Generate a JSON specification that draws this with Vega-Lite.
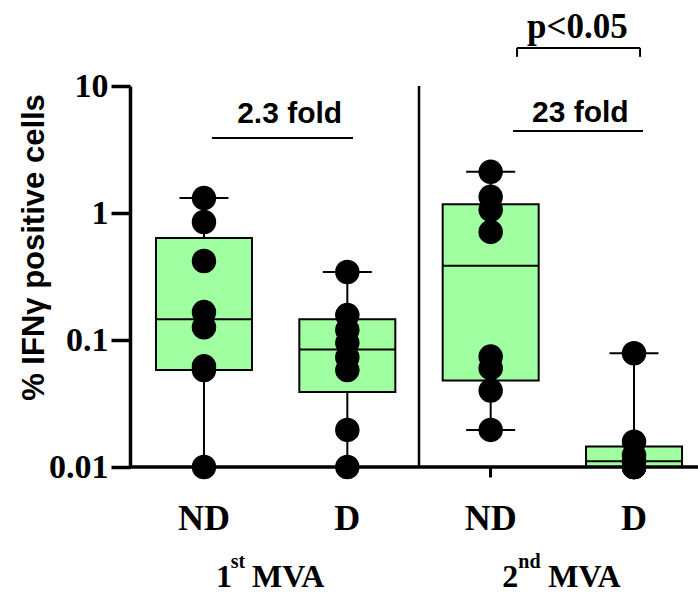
{
  "$schema": "https://vega.github.io/schema/vega-lite/v6.json",
  "width": 568,
  "height": 381,
  "autosize": {"type": "none"},
  "padding": {"left": 130, "top": 86, "right": 0, "bottom": 126},
  "background": "white",
  "config": {"view": {"stroke": null}},
  "datasets": {
    "stats": [
      {"group": "1st ND", "min": 0.01, "q1": 0.058, "median": 0.146, "q3": 0.636, "max": 1.31},
      {"group": "1st D", "min": 0.01, "q1": 0.039, "median": 0.084, "q3": 0.146, "max": 0.343},
      {"group": "2nd ND", "min": 0.0196, "q1": 0.048, "median": 0.385, "q3": 1.17, "max": 2.11},
      {"group": "2nd D", "min": 0.01, "q1": 0.01, "median": 0.0111, "q3": 0.0145, "max": 0.0786}
    ],
    "points": [
      {"group": "1st ND", "value": 0.01}, {"group": "1st ND", "value": 0.058}, {"group": "1st ND", "value": 0.062}, {"group": "1st ND", "value": 0.126},
      {"group": "1st ND", "value": 0.166}, {"group": "1st ND", "value": 0.419}, {"group": "1st ND", "value": 0.85}, {"group": "1st ND", "value": 1.31},
      {"group": "1st D", "value": 0.01}, {"group": "1st D", "value": 0.0196}, {"group": "1st D", "value": 0.058}, {"group": "1st D", "value": 0.073},
      {"group": "1st D", "value": 0.095}, {"group": "1st D", "value": 0.12}, {"group": "1st D", "value": 0.157}, {"group": "1st D", "value": 0.343},
      {"group": "2nd ND", "value": 0.0196}, {"group": "2nd ND", "value": 0.04}, {"group": "2nd ND", "value": 0.06}, {"group": "2nd ND", "value": 0.074},
      {"group": "2nd ND", "value": 0.71}, {"group": "2nd ND", "value": 1.06}, {"group": "2nd ND", "value": 1.34}, {"group": "2nd ND", "value": 2.11},
      {"group": "2nd D", "value": 0.01}, {"group": "2nd D", "value": 0.01}, {"group": "2nd D", "value": 0.01}, {"group": "2nd D", "value": 0.011},
      {"group": "2nd D", "value": 0.0112}, {"group": "2nd D", "value": 0.0124}, {"group": "2nd D", "value": 0.0158}, {"group": "2nd D", "value": 0.0786}
    ]
  },
  "data": {"values": [{}]},
  "layer": [
    {
      "data": {"name": "stats"},
      "mark": {"type": "rule", "color": "black", "strokeWidth": 2},
      "encoding": {
        "x": {
          "field": "group", "type": "nominal",
          "scale": {"type": "band", "domain": ["1st ND", "1st D", "2nd ND", "2nd D"], "range": [2.3, 575.7], "paddingInner": 0, "paddingOuter": 0},
          "axis": {
            "title": null, "domain": false, "grid": false, "ticks": true, "tickSize": 10, "tickWidth": 3, "tickColor": "black",
            "labelExpr": "split(datum.value, ' ')[1]", "labelFont": "Liberation Serif", "labelFontWeight": "bold", "labelFontSize": 36,
            "labelColor": "black", "labelBaseline": "alphabetic", "labelPadding": 52, "labelAngle": 0
          }
        },
        "y": {
          "field": "min", "type": "quantitative",
          "scale": {"type": "log", "domain": [0.01, 10], "nice": false},
          "axis": {
            "title": "% IFNγ positive cells", "values": [0.01, 0.1, 1, 10], "format": "~g", "grid": false,
            "domainWidth": 3.5, "domainColor": "black", "tickSize": 19, "tickWidth": 3.5, "tickColor": "black",
            "labelFont": "Liberation Serif", "labelFontWeight": "bold", "labelFontSize": 34, "labelColor": "black", "labelPadding": 3, "labelFlush": false,
            "titleFont": "Liberation Sans", "titleFontWeight": "bold", "titleFontSize": 31, "titleColor": "black",
            "titleX": -96, "titleY": 161, "titleAngle": 270, "titleAlign": "center", "titleBaseline": "middle"
          }
        },
        "y2": {"field": "max"}
      }
    },
    {
      "data": {"name": "stats"},
      "mark": {"type": "bar", "width": 96, "fill": "#A0FFA0", "stroke": "black", "strokeWidth": 2},
      "encoding": {
        "x": {"field": "group", "type": "nominal"},
        "y": {"field": "q1", "type": "quantitative"},
        "y2": {"field": "q3"}
      }
    },
    {
      "data": {"name": "stats"},
      "mark": {"type": "tick", "orient": "horizontal", "size": 96, "thickness": 2, "color": "black", "opacity": 1},
      "encoding": {
        "x": {"field": "group", "type": "nominal"},
        "y": {"field": "median", "type": "quantitative"}
      }
    },
    {
      "data": {"name": "stats"},
      "mark": {"type": "tick", "orient": "horizontal", "size": 49, "thickness": 2, "color": "black", "opacity": 1},
      "encoding": {
        "x": {"field": "group", "type": "nominal"},
        "y": {"field": "max", "type": "quantitative"}
      }
    },
    {
      "data": {"name": "stats"},
      "mark": {"type": "tick", "orient": "horizontal", "size": 49, "thickness": 2, "color": "black", "opacity": 1},
      "encoding": {
        "x": {"field": "group", "type": "nominal"},
        "y": {"field": "min", "type": "quantitative"}
      }
    },
    {
      "data": {"name": "points"},
      "mark": {"type": "circle", "size": 600, "color": "black", "opacity": 1},
      "encoding": {
        "x": {"field": "group", "type": "nominal"},
        "y": {"field": "value", "type": "quantitative"}
      }
    },
    {
      "mark": {"type": "rule", "color": "black", "strokeWidth": 3.5},
      "encoding": {"y": {"datum": 0.01}}
    },
    {
      "mark": {"type": "rule", "color": "black", "strokeWidth": 2.5},
      "encoding": {"x": {"datum": "2nd ND", "bandPosition": 0}}
    },
    {
      "mark": {"type": "tick", "orient": "horizontal", "size": 141, "thickness": 2, "color": "black", "opacity": 1, "xOffset": -64.8},
      "encoding": {"x": {"datum": "1st D"}, "y": {"datum": 3.9}}
    },
    {
      "mark": {"type": "text", "text": "2.3 fold", "font": "Liberation Sans", "fontWeight": "bold", "fontSize": 30, "color": "black", "align": "center", "baseline": "alphabetic", "dx": 14},
      "encoding": {"x": {"datum": "1st D", "bandPosition": 0}, "y": {"datum": 5.11}}
    },
    {
      "mark": {"type": "tick", "orient": "horizontal", "size": 130, "thickness": 2, "color": "black", "opacity": 1, "xOffset": -56},
      "encoding": {"x": {"datum": "2nd D"}, "y": {"datum": 4.42}}
    },
    {
      "mark": {"type": "text", "text": "23 fold", "font": "Liberation Sans", "fontWeight": "bold", "fontSize": 30, "color": "black", "align": "center", "baseline": "alphabetic", "dx": 18},
      "encoding": {"x": {"datum": "2nd D", "bandPosition": 0}, "y": {"datum": 5.21}}
    },
    {
      "mark": {"type": "text", "text": "p<0.05", "font": "Liberation Serif", "fontWeight": "bold", "fontSize": 35, "color": "black", "align": "center", "baseline": "alphabetic", "dx": 15},
      "encoding": {"x": {"datum": "2nd D", "bandPosition": 0}, "y": {"datum": 24}}
    },
    {
      "mark": {"type": "tick", "orient": "horizontal", "size": 123, "thickness": 2, "color": "black", "opacity": 1, "xOffset": -55.5},
      "encoding": {"x": {"datum": "2nd D"}, "y": {"datum": 19.9}}
    },
    {
      "mark": {"type": "tick", "orient": "vertical", "size": 9, "thickness": 2, "color": "black", "opacity": 1, "xOffset": -45.3},
      "encoding": {"x": {"datum": "2nd D", "bandPosition": 0}, "y": {"datum": 18.4}}
    },
    {
      "mark": {"type": "tick", "orient": "vertical", "size": 9, "thickness": 2, "color": "black", "opacity": 1, "xOffset": 77.7},
      "encoding": {"x": {"datum": "2nd D", "bandPosition": 0}, "y": {"datum": 18.4}}
    },
    {
      "mark": {"type": "text", "text": "1", "font": "Liberation Serif", "fontWeight": "bold", "fontSize": 32, "color": "black", "align": "right", "baseline": "alphabetic", "dx": -43.7, "dy": 120},
      "encoding": {"x": {"datum": "1st D", "bandPosition": 0}, "y": {"datum": 0.01}}
    },
    {
      "mark": {"type": "text", "text": "st", "font": "Liberation Serif", "fontWeight": "bold", "fontSize": 20, "color": "black", "align": "left", "baseline": "alphabetic", "dx": -45, "dy": 101},
      "encoding": {"x": {"datum": "1st D", "bandPosition": 0}, "y": {"datum": 0.01}}
    },
    {
      "mark": {"type": "text", "text": "MVA", "font": "Liberation Serif", "fontWeight": "bold", "fontSize": 32, "color": "black", "align": "left", "baseline": "alphabetic", "dx": -23.7, "dy": 120},
      "encoding": {"x": {"datum": "1st D", "bandPosition": 0}, "y": {"datum": 0.01}}
    },
    {
      "mark": {"type": "text", "text": "2", "font": "Liberation Serif", "fontWeight": "bold", "fontSize": 32, "color": "black", "align": "right", "baseline": "alphabetic", "dx": -44, "dy": 120},
      "encoding": {"x": {"datum": "2nd D", "bandPosition": 0}, "y": {"datum": 0.01}}
    },
    {
      "mark": {"type": "text", "text": "nd", "font": "Liberation Serif", "fontWeight": "bold", "fontSize": 20, "color": "black", "align": "left", "baseline": "alphabetic", "dx": -44, "dy": 101},
      "encoding": {"x": {"datum": "2nd D", "bandPosition": 0}, "y": {"datum": 0.01}}
    },
    {
      "mark": {"type": "text", "text": "MVA", "font": "Liberation Serif", "fontWeight": "bold", "fontSize": 32, "color": "black", "align": "left", "baseline": "alphabetic", "dx": -14, "dy": 120},
      "encoding": {"x": {"datum": "2nd D", "bandPosition": 0}, "y": {"datum": 0.01}}
    }
  ]
}
